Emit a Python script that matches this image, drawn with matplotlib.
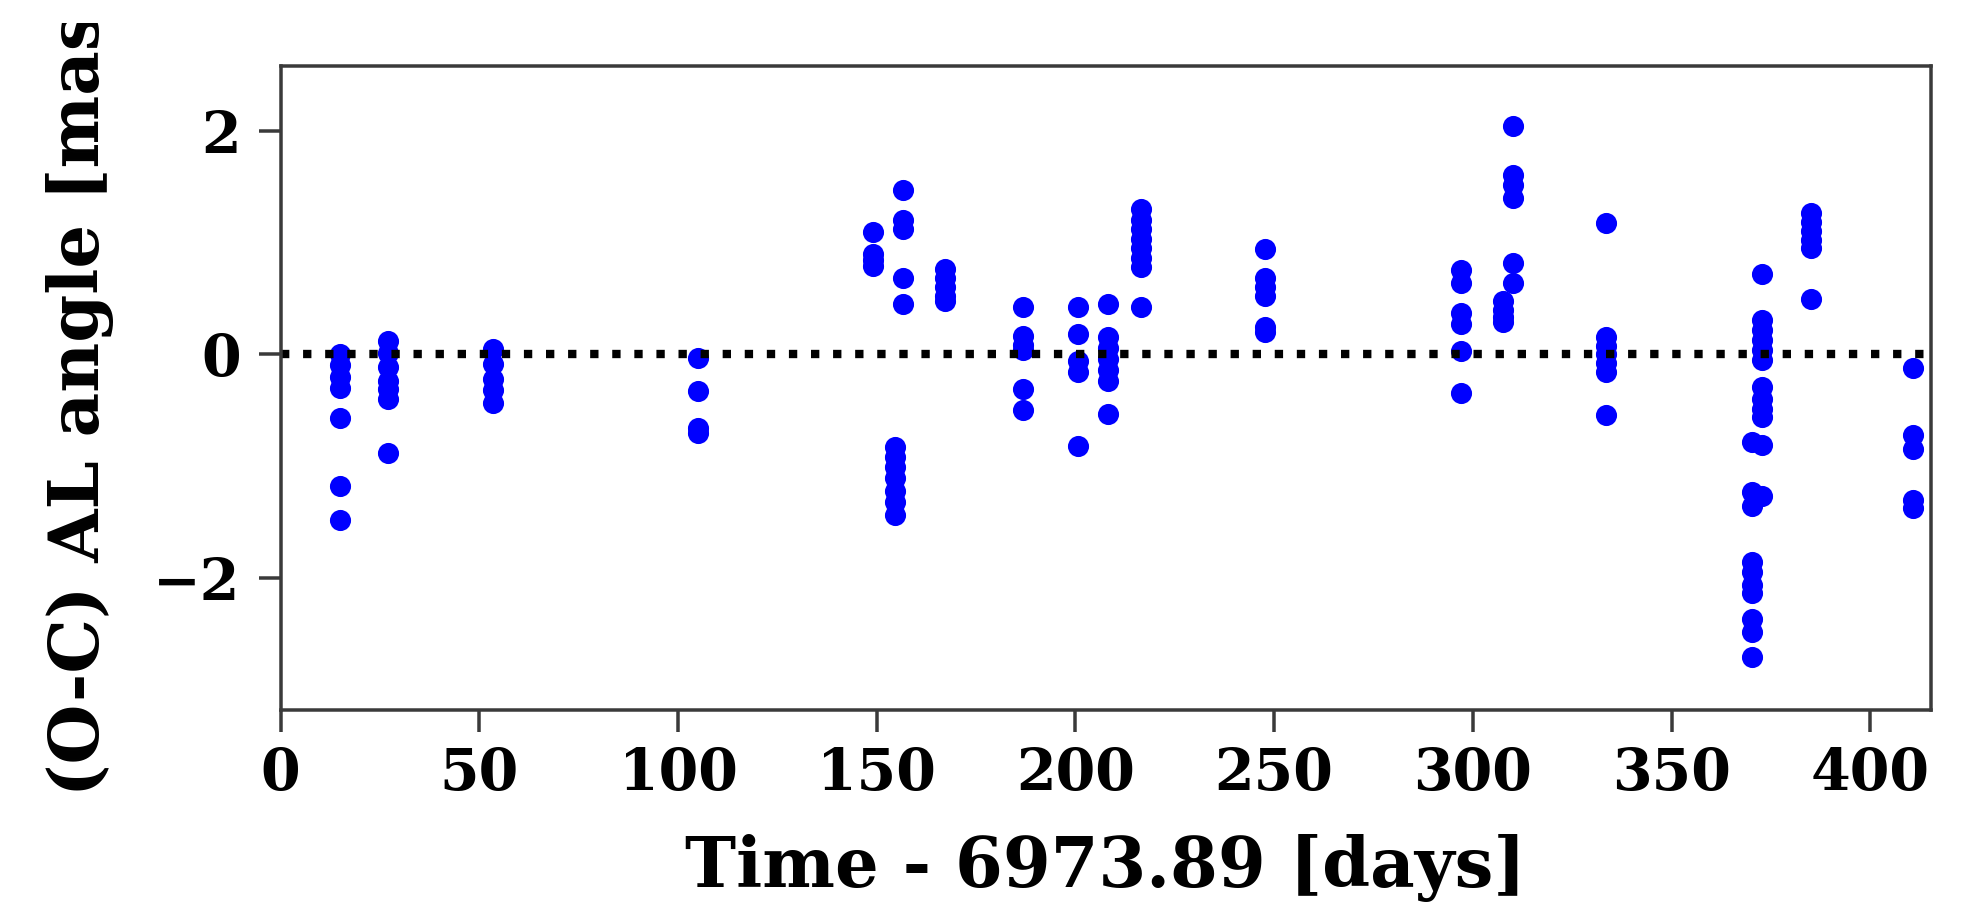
import numpy as np
import matplotlib
matplotlib.use("Agg")
import matplotlib.pyplot as plt
from matplotlib.transforms import Bbox, TransformedBbox

# Observation epochs (days since reference) and the O-C residuals of each epoch [mas]
epoch_t = [15.0, 27.0, 53.5, 105.0, 149.0, 156.7, 154.6, 167.1, 186.7, 200.7,
           208.2, 216.6, 247.8, 297.1, 310.1, 307.6, 333.6, 370.2, 372.8, 385.2,
           410.8]
epoch_oc = [
    [0.0, -0.1, -0.2, -0.3, -0.57, -1.18, -1.48],
    [0.12, 0.01, -0.11, -0.24, -0.31, -0.40, -0.88],
    [0.05, -0.09, -0.22, -0.32, -0.44],
    [-0.03, -0.33, -0.66, -0.70],
    [1.09, 0.90, 0.84, 0.79],
    [1.47, 1.20, 1.12, 0.68, 0.45],
    [-0.83, -0.92, -1.01, -1.11, -1.22, -1.32, -1.44],
    [0.76, 0.68, 0.60, 0.52, 0.48],
    [0.42, 0.16, 0.08, 0.04, -0.31, -0.50],
    [0.42, 0.18, -0.06, -0.16, -0.82],
    [0.45, 0.15, 0.06, -0.04, -0.14, -0.24, -0.53],
    [1.30, 1.20, 1.12, 1.03, 0.95, 0.86, 0.78, 0.42],
    [0.94, 0.68, 0.60, 0.52, 0.24, 0.20],
    [0.75, 0.64, 0.37, 0.27, 0.03, -0.35],
    [2.04, 1.60, 1.51, 1.40, 0.82, 0.64],
    [0.48, 0.40, 0.33, 0.29],
    [1.17, 0.15, 0.07, 0.0, -0.08, -0.16, -0.54],
    [-0.78, -1.23, -1.36, -1.86, -1.95, -2.06, -2.13, -2.37, -2.48, -2.71],
    [0.72, 0.31, 0.22, 0.13, 0.04, -0.05, -0.29, -0.40, -0.49, -0.56, -0.81, -1.27],
    [1.26, 1.18, 1.10, 1.02, 0.95, 0.49],
    [-0.12, -0.72, -0.85, -1.30, -1.37],
]
t0 = 6973.89

t = np.repeat(epoch_t, [len(v) for v in epoch_oc])
oc = np.concatenate(epoch_oc)

plt.rcParams["font.family"] = "DejaVu Serif"
plt.rcParams["font.weight"] = "bold"

fig = plt.figure(figsize=(9.91, 4.535), dpi=200)
ax = fig.add_axes([0.1416, 0.2172, 0.8327, 0.7104])

ax.plot(t, oc, "o", color="blue", markersize=6.6, markeredgewidth=1.0)
ax.axhline(0, color="k", linestyle=":", linewidth=3.0)

ax.set_xlim(0, 415.3)
ax.set_ylim(-3.18, 2.58)
ax.set_xticks([0, 50, 100, 150, 200, 250, 300, 350, 400])
ax.set_yticks([-2, 0, 2])

for side in ["left", "bottom", "right", "top"]:
    ax.spines[side].set_linewidth(1.26)
    ax.spines[side].set_color("#3a3a3a")
ax.tick_params(axis="both", length=7.9, width=1.26, color="#3a3a3a",
               labelsize=20.5)
ax.tick_params(axis="y", pad=6.5)
ax.tick_params(axis="x", pad=5)

ax.set_xlabel("Time - %.2f [days]" % t0, fontsize=24.7, fontweight="bold")
ax.xaxis.label.set_va("baseline")
ax.xaxis.set_label_coords(0.5, -0.2743)

ax.set_ylabel("(O-C) AL angle [mas]", fontsize=24.7, fontweight="bold")
ax.yaxis.set_label_coords(-0.101, 0.5)
# the long y label runs past the top margin; trim it there
ylab = ax.yaxis.label
ylab.set_clip_box(TransformedBbox(Bbox([[0, 0], [1, 1 - 23 / 907]]), fig.transFigure))
ylab.set_clip_on(True)

fig.savefig("out.png", dpi=200)
